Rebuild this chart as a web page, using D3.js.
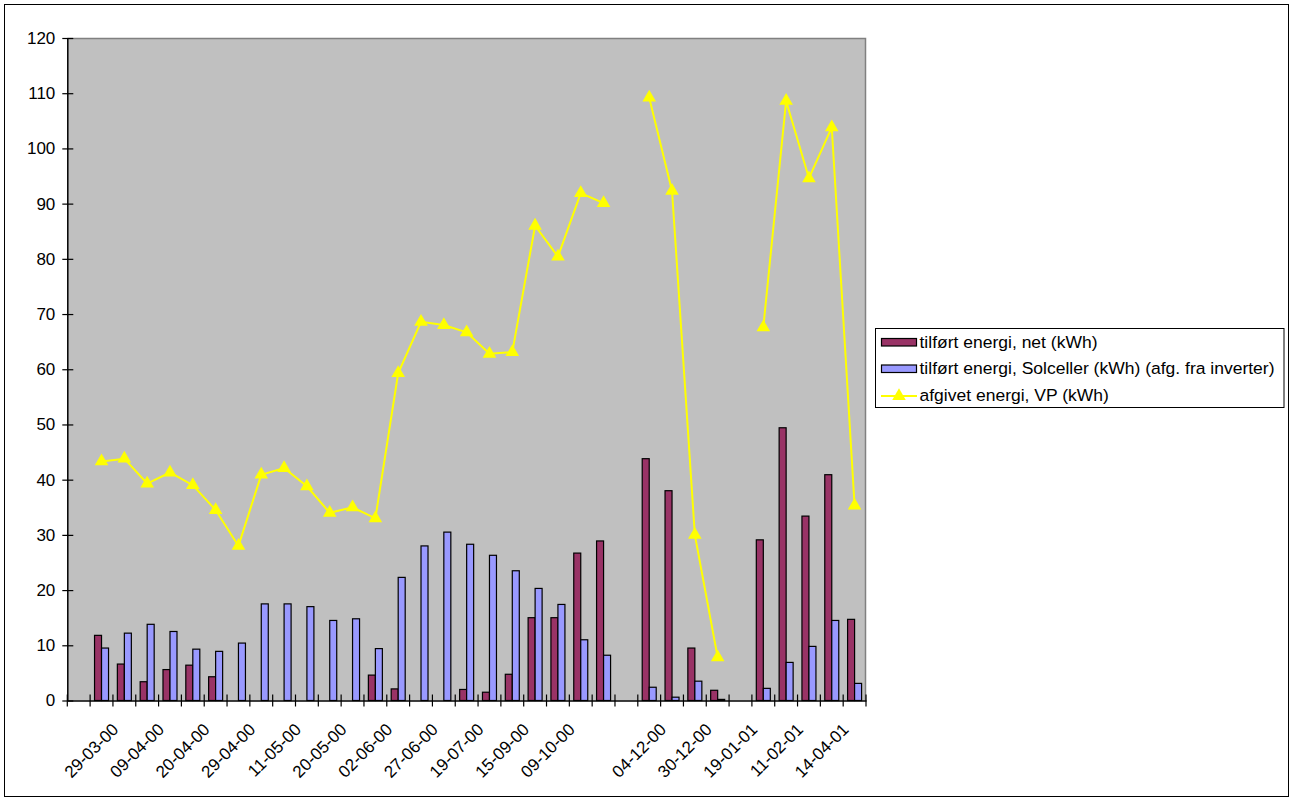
<!DOCTYPE html>
<html>
<head>
<meta charset="utf-8">
<script src="https://cdn.jsdelivr.net/npm/d3@7"></script>
<style>
  html, body { margin: 0; padding: 0; background: #ffffff; }
  svg text { font-family: "Liberation Sans", Arial, sans-serif; }
</style>
</head>
<body>
<svg id="chart" width="1293" height="801"></svg>
<script>
// ---- data ----
const categories = ["", "29-03-00", "", "09-04-00", "", "20-04-00", "", "29-04-00", "", "11-05-00",
  "", "20-05-00", "", "02-06-00", "", "27-06-00", "", "19-07-00", "", "15-09-00",
  "", "09-10-00", "", "", "", "04-12-00", "", "30-12-00", "", "19-01-01",
  "", "11-02-01", "", "14-04-01", ""];
const netValues = [null, 11.8, 6.6, 3.4, 5.6, 6.4, 4.3, 0, 0, 0,
  0, 0, 0, 4.6, 2.1, 0, 0, 2.0, 1.5, 4.75,
  15.0, 15.0, 26.7, 28.9, null, 43.8, 38.0, 9.5, 1.85, null,
  29.1, 49.4, 33.4, 40.9, 14.7];
const solValues = [null, 9.5, 12.2, 13.8, 12.5, 9.3, 8.9, 10.4, 17.5, 17.5,
  17.0, 14.5, 14.8, 9.4, 22.3, 28.0, 30.5, 28.3, 26.3, 23.5,
  20.3, 17.4, 11.0, 8.2, null, 2.4, 0.6, 3.5, 0.2, null,
  2.2, 6.9, 9.8, 14.5, 3.1];
const vpValues = [null, 43.3, 43.8, 39.3, 41.3, 39.0, 34.5, 28.0, 40.9, 42.1,
  38.8, 34.0, 35.0, 33.0, 59.3, 68.6, 68.0, 66.7, 62.8, 63.1,
  86.0, 80.4, 91.9, 90.1, null, 109.2, 92.3, 30.0, 7.8, null,
  67.6, 108.6, 94.6, 103.8, 35.3];
const yTicks = [0, 10, 20, 30, 40, 50, 60, 70, 80, 90, 100, 110, 120];
const seriesNames = ["tilført energi, net (kWh)",
  "tilført energi, Solceller (kWh) (afg. fra inverter)",
  "afgivet energi, VP (kWh)"];
const colors = { net: "#993366", sol: "#9999FF", vp: "#FFFF00", plot: "#C0C0C0" };

// ---- layout ----
const svg = d3.select("#chart");
const plot = { left: 67.3, right: 866, top: 38, bottom: 700.5 };
const FS = 17;

svg.append("rect").attr("x", 4.5).attr("y", 4.5).attr("width", 1284).attr("height", 792)
  .attr("fill", "#fff").attr("stroke", "#000").attr("stroke-width", 1);

const idx = d3.range(categories.length);
const x = d3.scaleBand().domain(idx).range([plot.left, plot.right]).paddingInner(0).paddingOuter(0);
const xSub = d3.scaleBand().domain(["net", "sol"]).range([0, x.bandwidth()]).paddingInner(0).paddingOuter(0.63);
const y = d3.scaleLinear().domain([0, 120]).range([plot.bottom, plot.top]);

// plot background
svg.append("rect").attr("x", plot.left).attr("y", plot.top)
  .attr("width", plot.right - plot.left).attr("height", plot.bottom - plot.top)
  .attr("fill", colors.plot);
svg.append("path")
  .attr("d", `M${plot.left},${plot.top + 0.5}H${plot.right - 0.5}V${plot.bottom}`)
  .attr("fill", "none").attr("stroke", "#808080").attr("stroke-width", 1.5);

// bars
const series = [{ key: "net", values: netValues }, { key: "sol", values: solValues }];
series.forEach(s => {
  svg.append("g").selectAll("rect")
    .data(idx.filter(i => s.values[i] != null && s.values[i] > 0))
    .join("rect")
    .attr("x", i => x(i) + xSub(s.key))
    .attr("y", i => y(s.values[i]))
    .attr("width", xSub.bandwidth())
    .attr("height", i => y(0) - y(s.values[i]))
    .attr("fill", colors[s.key])
    .attr("stroke", "#000").attr("stroke-width", 1.2);
});

// y axis
const yAxis = svg.append("g").attr("transform", `translate(${plot.left},0)`)
  .call(d3.axisLeft(y).tickValues(yTicks).tickSizeOuter(0).tickSizeInner(5).tickPadding(7));
yAxis.select(".domain").attr("stroke", "#000").attr("stroke-width", 1.5);
yAxis.selectAll(".tick line").attr("x1", 6).attr("x2", -5).attr("stroke", "#000").attr("stroke-width", 1.2);
yAxis.selectAll(".tick text").attr("font-size", FS).attr("fill", "#000").attr("x", -12);

// x axis
const xAxis = svg.append("g").attr("transform", `translate(0,${plot.bottom})`)
  .call(d3.axisBottom(x).tickSize(0).tickFormat(i => (i % 2 === 1 ? categories[i] : "")));
xAxis.select(".domain").attr("stroke", "#000").attr("stroke-width", 1.5);
xAxis.selectAll(".tick text")
  .attr("font-size", FS).attr("fill", "#000")
  .attr("text-anchor", "end")
  .attr("dy", 0).attr("y", 0).attr("x", 0)
  .attr("transform", `translate(18,30) rotate(-45)`);
// category boundary ticks
const bounds = idx.map(i => x(i)).concat([plot.right]);
svg.append("g").selectAll("line").data(bounds).join("line")
  .attr("x1", d => d).attr("x2", d => d)
  .attr("y1", plot.bottom - 6).attr("y2", plot.bottom + 6)
  .attr("stroke", "#000").attr("stroke-width", 1.2);

// VP line
const line = d3.line()
  .defined(i => vpValues[i] != null)
  .x(i => x(i) + x.bandwidth() / 2)
  .y(i => y(vpValues[i]));
svg.append("path").datum(idx).attr("d", line)
  .attr("fill", "none").attr("stroke", colors.vp).attr("stroke-width", 2);
const tri = d3.symbol().type(d3.symbolTriangle).size(80);
svg.append("g").selectAll("path")
  .data(idx.filter(i => vpValues[i] != null))
  .join("path")
  .attr("d", tri)
  .attr("transform", i => `translate(${x(i) + x.bandwidth() / 2},${y(vpValues[i])})`)
  .attr("fill", colors.vp);

// legend
const lg = svg.append("g");
lg.append("rect").attr("x", 875.5).attr("y", 328.5).attr("width", 408.5).attr("height", 79)
  .attr("fill", "#fff").attr("stroke", "#000").attr("stroke-width", 1);
const rowY = [342, 368.5, 395];
lg.append("rect").attr("x", 881.5).attr("y", rowY[0] - 3.5).attr("width", 35).attr("height", 7.5)
  .attr("fill", colors.net).attr("stroke", "#000").attr("stroke-width", 1.2);
lg.append("rect").attr("x", 881.5).attr("y", rowY[1] - 3.5).attr("width", 35).attr("height", 7.5)
  .attr("fill", colors.sol).attr("stroke", "#000").attr("stroke-width", 1.2);
lg.append("line").attr("x1", 881).attr("x2", 917).attr("y1", rowY[2] + 1).attr("y2", rowY[2] + 1)
  .attr("stroke", colors.vp).attr("stroke-width", 2);
lg.append("path").attr("d", tri).attr("transform", `translate(899,${rowY[2] + 1})`).attr("fill", colors.vp);
seriesNames.forEach((n, k) => {
  lg.append("text").attr("x", 0).attr("y", 0).attr("dy", "0.35em")
    .attr("transform", `translate(919.5,${rowY[k]}) scale(1.03,1)`)
    .attr("font-size", FS).attr("fill", "#000").text(n);
});
</script>
</body>
</html>
